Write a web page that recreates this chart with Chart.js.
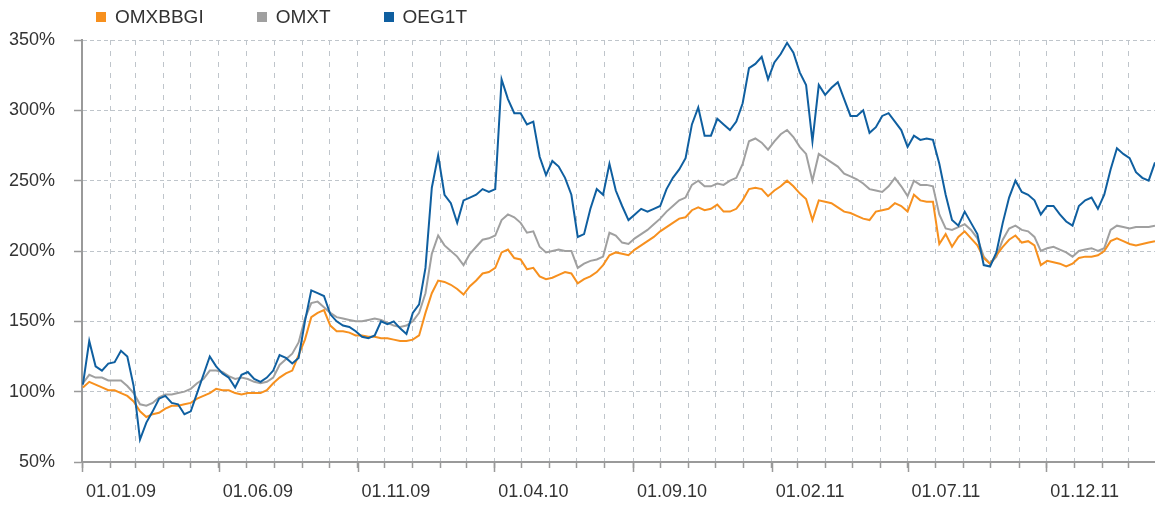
<!DOCTYPE html>
<html>
<head>
<meta charset="utf-8">
<script src="https://cdn.jsdelivr.net/npm/chart.js@4.4.1/dist/chart.umd.min.js"></script>
<style>
  body { margin: 0; background: #fff; }
  #wrap { position: relative; width: 1155px; height: 505px; }
  #legend { position: absolute; left: 96px; top: 6px; display: flex; font: 19px "Liberation Sans", Arial, sans-serif; color: #333; line-height: 22px; }
  #legend .item { display: flex; align-items: center; margin-right: 53px; }
  #legend .box { width: 10px; height: 10px; margin-right: 9px; }
</style>
</head>
<body>
<div id="wrap">
  <div id="legend"></div>
  <canvas id="chartIndex"></canvas>
</div>
<script>
const startDate = new Date(2009, 0, 1);
const endDay = 1184;

const seriesNames = ['OMXBBGI', 'OMXT', 'OEG1T'];
const seriesColors = ['#f7901e', '#a0a0a0', '#0f5fa0'];

// weekly values in %, first one on 02.01.09
const omxbbgi = [
  103,107,105,103,101,101,99,97,93,86,
  82,84,85,88,90,90,91,92,95,97,
  99,102,101,101,99,98,99,99,99,101,
  106,110,113,115,126,137,153,156,158,147,
  143,143,142,140,140,139,139,138,138,137,
  136,136,137,140,156,170,179,178,176,173,
  169,175,179,184,185,188,199,201,195,194,
  187,188,182,180,181,183,185,184,177,180,
  182,185,190,197,199,198,197,201,204,207,
  210,214,217,220,223,224,229,231,229,230,
  233,228,228,230,236,244,245,244,239,243,
  246,250,246,241,237,222,236,235,234,231,
  228,227,225,223,222,228,229,230,234,232,
  228,240,236,235,235,205,212,203,210,214,
  209,204,195,191,197,203,208,211,206,207,
  204,190,193,192,191,189,191,195,196,196,
  197,200,207,209,207,205,204,205,206,207
];
const omxt = [
  106,112,110,110,108,108,108,104,99,91,
  90,92,96,98,98,99,100,102,106,109,
  115,115,114,111,109,110,109,107,106,107,
  110,119,123,127,135,152,163,164,160,156,
  153,152,151,150,150,151,152,151,149,147,
  146,147,150,156,170,198,211,204,200,196,
  190,198,203,208,209,211,222,226,224,220,
  213,214,203,199,200,201,200,200,188,191,
  193,194,196,213,211,206,205,209,212,215,
  219,223,228,232,236,238,247,250,246,246,
  248,247,250,252,262,278,280,277,272,278,
  283,286,281,274,269,250,269,266,263,260,
  255,253,251,248,244,243,242,246,252,246,
  239,250,247,247,246,226,216,215,217,219,
  215,209,196,191,196,208,216,218,215,214,
  210,200,202,203,201,199,196,200,201,202,
  200,202,215,218,217,216,217,217,217,218
];
const oeg1t = [
  105,136,118,115,120,121,129,125,104,66,
  78,86,95,97,92,91,84,86,99,112,
  125,118,113,110,103,112,114,109,107,110,
  115,126,124,120,124,150,172,170,168,155,
  150,147,146,143,139,138,140,150,148,150,
  145,141,156,162,188,245,268,240,234,220,
  236,238,240,244,242,244,322,308,298,298,
  290,292,267,254,264,260,252,240,210,212,
  230,244,240,262,243,232,222,226,230,228,
  230,232,244,252,258,266,290,302,282,282,
  294,290,286,292,305,330,333,338,322,334,
  340,348,341,327,318,278,318,311,316,320,
  308,296,296,300,284,288,296,298,292,286,
  274,282,279,280,279,262,240,222,218,228,
  220,212,190,189,199,220,238,250,242,240,
  236,226,232,232,226,221,218,232,236,238,
  230,240,258,273,269,266,256,252,250,263
];

const days = omxbbgi.map((v, i) => 1 + 7 * i);

// first day of every month, counted in days from 01.01.09
const monthTicks = [];
for (let m = 0; ; m++) {
  const day = Math.round((new Date(2009, m, 1) - startDate) / 86400000);
  if (day > endDay) break;
  monthTicks.push({ value: day, month: m });
}

function monthLabel(m) {
  if (m % 5 !== 0) return '';
  const mm = String(m % 12 + 1).padStart(2, '0');
  const yy = String(9 + Math.floor(m / 12)).padStart(2, '0');
  return '01.' + mm + '.' + yy;
}

const toPoints = (vals) => vals.map((v, i) => ({ x: days[i], y: v }));

const tickFont = { family: '"Liberation Sans", Arial, sans-serif', size: 18 };

// longer tick marks under the labelled months
const longTicks = {
  id: 'longTicks',
  afterDraw(chart) {
    const xs = chart.scales.x;
    const ctx = chart.ctx;
    ctx.save();
    ctx.strokeStyle = '#9a9a9a';
    ctx.lineWidth = 1.5;
    monthTicks.forEach(t => {
      if (t.month % 5 !== 0) return;
      const px = Math.round(xs.getPixelForValue(t.value)) + 0.5;
      ctx.beginPath();
      ctx.moveTo(px, xs.top);
      ctx.lineTo(px, xs.top + 10);
      ctx.stroke();
    });
    ctx.restore();
  }
};

const config = {
  type: 'line',
  data: {
    datasets: [
      { label: seriesNames[0], data: toPoints(omxbbgi), borderColor: seriesColors[0], order: 1 },
      { label: seriesNames[1], data: toPoints(omxt), borderColor: seriesColors[1], order: 2 },
      { label: seriesNames[2], data: toPoints(oeg1t), borderColor: seriesColors[2], order: 0 }
    ]
  },
  options: {
    responsive: true,
    maintainAspectRatio: false,
    animation: false,
    events: [],
    layout: { padding: { top: 40, left: 0, right: 0, bottom: 0 } },
    elements: {
      line: { borderWidth: 2, tension: 0, fill: false },
      point: { radius: 0 }
    },
    plugins: {
      legend: { display: false },
      tooltip: { enabled: false }
    },
    scales: {
      x: {
        type: 'linear',
        min: 0,
        max: endDay,
        afterBuildTicks: (axis) => {
          axis.ticks = monthTicks.map(t => ({ value: t.value }));
        },
        afterFit: (scale) => { scale.height = 43; },
        ticks: {
          autoSkip: false,
          maxRotation: 0,
          align: 'start',
          labelOffset: 4,
          padding: 13,
          color: '#333',
          font: tickFont,
          callback: (value, index) => monthLabel(monthTicks[index].month)
        },
        grid: { color: '#bfc5cb', lineWidth: 1, tickLength: 6, tickColor: '#9a9a9a', tickWidth: 1.5 },
        border: { color: '#9a9a9a', width: 2, dash: [5, 6] }
      },
      y: {
        min: 50,
        max: 350,
        afterFit: (scale) => { scale.width = 82; },
        ticks: {
          stepSize: 50,
          padding: 19,
          color: '#333',
          font: tickFont,
          callback: (v) => v + '%'
        },
        grid: { color: '#bfc5cb', lineWidth: 1, tickLength: 8, tickColor: '#9a9a9a', tickWidth: 1.5 },
        border: { color: '#9a9a9a', width: 2, dash: [4, 3] }
      }
    }
  },
  plugins: [longTicks]
};

const ctxIndex = document.getElementById('chartIndex').getContext('2d');
window.indexChart = new Chart(ctxIndex, config);

const legendEl = document.getElementById('legend');
seriesNames.forEach((name, i) => {
  const item = document.createElement('span');
  item.className = 'item';
  const box = document.createElement('span');
  box.className = 'box';
  box.style.background = seriesColors[i];
  item.appendChild(box);
  item.appendChild(document.createTextNode(name));
  legendEl.appendChild(item);
});
</script>
</body>
</html>
